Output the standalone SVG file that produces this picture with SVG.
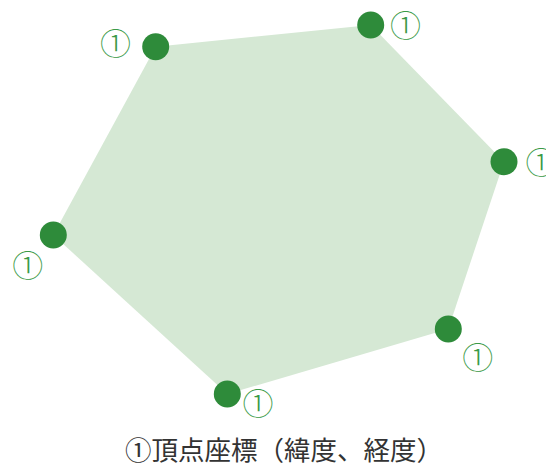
<svg xmlns="http://www.w3.org/2000/svg" width="546" height="466" viewBox="0 0 546 466">
<style>
.lbl{font-family:"Noto Sans CJK JP","Noto Sans",sans-serif;font-size:31px;font-weight:300;fill:#3a9a48;text-anchor:middle;dominant-baseline:central}
.dot{fill:#2e8b3a}
.cap{font-family:"Noto Sans CJK JP","Noto Sans",sans-serif;font-size:26.5px;font-weight:400;fill:#333;text-anchor:middle}
</style>
<g id="area">
<polygon points="155.7,46.7 370.7,25 504,161.7 448.3,329 227.3,394 53.3,235" fill="#d5e8d4"/>
</g>
<g id="v1"><circle class="dot" cx="155.7" cy="46.7" r="13.5"/><text class="lbl" x="115.5" y="41.5">①</text></g>
<g id="v2"><circle class="dot" cx="370.7" cy="25" r="13.5"/><text class="lbl" x="405.5" y="23.5">①</text></g>
<g id="v3"><circle class="dot" cx="504" cy="161.7" r="13.5"/><text class="lbl" x="541" y="160">①</text></g>
<g id="v4"><circle class="dot" cx="448.3" cy="329" r="13.5"/><text class="lbl" x="477.8" y="355.5">①</text></g>
<g id="v5"><circle class="dot" cx="227.3" cy="394" r="13.5"/><text class="lbl" x="258" y="401.5">①</text></g>
<g id="v6"><circle class="dot" cx="53.3" cy="235" r="13.5"/><text class="lbl" x="27.7" y="263.3">①</text></g>
<g id="connectors"/>
<text class="cap" x="284" y="460">①頂点座標（緯度、経度）</text>
</svg>
